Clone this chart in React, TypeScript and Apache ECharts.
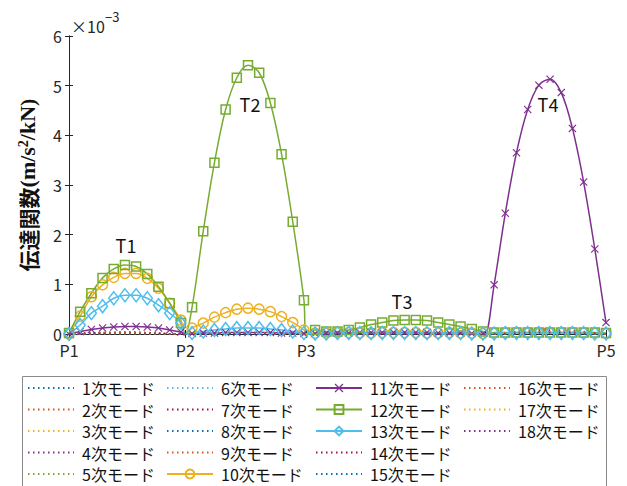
import React, { useEffect, useRef } from 'react';
import * as echarts from 'echarts';

// Support positions along the bridge (grid index units) and their labels
const SUPPORT_LABELS = ['P1', 'P2', 'P3', 'P4', 'P5'];
const SUPPORT_X = [0, 10.4, 21.2, 37.2, 48];
const INNER_SUPPORTS = [10.4, 21.2, 37.2];

// Marker stations (k = 0..48)
const STATION_X = [
  0, 1, 2, 3, 4, 5, 6, 7, 8, 9, 10, 11, 12, 13, 14, 15, 16, 17, 18, 19, 20, 21, 22, 23, 24,
  25, 26, 27, 28, 29, 30, 31, 32, 33, 34, 35, 36, 37, 38, 39, 40, 41, 42, 43, 44, 45, 46, 47, 48,
];

// Y tick values (×10^-3)
const Y_TICKS = [0, 1, 2, 3, 4, 5, 6];

// Main modes (values in ×10^-3 m/s²/kN) at each station
const MODE10 = [
  0, 0.36, 0.75, 0.99, 1.14, 1.22, 1.22, 1.12, 0.92, 0.62, 0.28,
  0.12, 0.22, 0.34, 0.43, 0.5, 0.52, 0.5, 0.45, 0.35, 0.23, 0.08,
  0.02, 0.02, 0.03, 0.03, 0.02, 0.02, 0.03, 0.03, 0.03, 0.03, 0.02, 0.02, 0.03, 0.02, 0.02, 0.01,
  0.02, 0.02, 0.03, 0.03, 0.03, 0.03, 0.03, 0.03, 0.02, 0.02, 0.01,
];
const MODE11 = [
  0, 0.05, 0.09, 0.12, 0.14, 0.15, 0.15, 0.14, 0.12, 0.08, 0.04,
  0.01, 0.02, 0.02, 0.03, 0.03, 0.03, 0.03, 0.03, 0.02, 0.02, 0.01,
  0.01, 0.02, 0.02, 0.02, 0.03, 0.03, 0.03, 0.03, 0.03, 0.03, 0.03, 0.02, 0.02, 0.02, 0.01, 0.01,
  0.99, 2.43, 3.65, 4.52, 5.01, 5.13, 4.86, 4.14, 3.06, 1.71, 0.23,
];
const MODE12 = [
  0.02, 0.45, 0.82, 1.13, 1.31, 1.39, 1.36, 1.21, 0.95, 0.62, 0.22,
  0.54, 2.07, 3.45, 4.52, 5.16, 5.41, 5.26, 4.65, 3.62, 2.26, 0.68,
  0.08, 0.05, 0.05, 0.08, 0.13, 0.19, 0.23, 0.27, 0.28, 0.28, 0.27, 0.23, 0.19, 0.15, 0.1, 0.05,
  0.03, 0.03, 0.03, 0.03, 0.03, 0.03, 0.03, 0.03, 0.03, 0.03, 0.02,
];
const MODE13 = [
  0, 0.18, 0.42, 0.56, 0.72, 0.78, 0.78, 0.72, 0.58, 0.42, 0.22,
  0.02, 0.05, 0.08, 0.1, 0.12, 0.12, 0.12, 0.1, 0.08, 0.05, 0.02,
  0.01, 0.01, 0.02, 0.02, 0.02, 0.02, 0.02, 0.02, 0.02, 0.02, 0.02, 0.02, 0.02, 0.02, 0.01, 0.01,
  0.01, 0.02, 0.02, 0.02, 0.02, 0.02, 0.02, 0.02, 0.02, 0.01, 0.01,
];

// Minor modes (dotted) sampled at supports and mid-spans
const DOT_X = [0, 5.2, 10.4, 15.8, 21.2, 29.2, 37.2, 42.6, 48];
const MODE1 = [0, 0.01, 0, 0.01, 0, 0.01, 0, 0.01, 0];
const MODE2 = [0, 0.02, 0, 0.02, 0, 0.03, 0, 0.05, 0];
const MODE3 = [0, 0.01, 0, 0.02, 0, 0.02, 0, 0.03, 0];
const MODE4 = [0, 0.02, 0, 0.01, 0, 0.02, 0, 0.02, 0];
const MODE5 = [0, 0.01, 0, 0.01, 0, 0.02, 0, 0.02, 0];
const MODE6 = [0, 0.01, 0, 0.01, 0, 0.01, 0, 0.02, 0];
const MODE7 = [0, 0.03, 0, 0.02, 0, 0.02, 0, 0.04, 0];
const MODE8 = [0, 0.02, 0, 0.02, 0, 0.02, 0, 0.03, 0];
const MODE9 = [0, 0.02, 0, 0.02, 0, 0.03, 0, 0.08, 0];
const MODE14 = [0, 0.04, 0, 0.02, 0, 0.03, 0, 0.06, 0];
const MODE15 = [0, 0.02, 0, 0.01, 0, 0.02, 0, 0.03, 0];
const MODE16 = [0, 0.03, 0, 0.03, 0, 0.04, 0, 0.1, 0];
const MODE17 = [0, 0.01, 0, 0.02, 0, 0.02, 0, 0.04, 0];
const MODE18 = [0, 0.01, 0, 0.02, 0, 0.02, 0, 0.03, 0];

const SPAN_LABELS = ['T1', 'T2', 'T3', 'T4'];

const C_BLUE = '#0072BD';
const C_ORANGE = '#D95319';
const C_YELLOW = '#EDB120';
const C_PURPLE = '#7E2F8E';
const C_GREEN = '#77AC30';
const C_CYAN = '#4DBEEE';
const C_RED = '#A2142F';

const JP = '"Noto Sans CJK JP", "Noto Sans", sans-serif';
const SERIF = '"Liberation Serif", "DejaVu Serif", serif';
const X_SYMBOL = 'path://M0,1 L1,0 L5,4 L9,0 L10,1 L6,5 L10,9 L9,10 L5,6 L1,10 L0,9 L4,5 Z';

const name = (n: number) => `${n}次モード`;

function stationData(values: number[]) {
  const pts: any[] = values.map((v, i) => ({ value: [STATION_X[i], v] }));
  INNER_SUPPORTS.forEach((sx) => pts.push({ value: [sx, 0], symbol: 'none' }));
  pts.sort((a, b) => a.value[0] - b.value[0]);
  return pts;
}

function dottedSeries(n: number, color: string, values: number[]) {
  return {
    name: name(n),
    type: 'line',
    data: values.map((v, i) => [DOT_X[i], v]),
    symbol: 'none',
    smooth: 0.4,
    lineStyle: { color, width: 1.5, type: [1.5, 3.5] },
    itemStyle: { color: 'rgba(0,0,0,0)', borderWidth: 0 },
  };
}

function markerSeries(n: number, color: string, values: number[], symbol: string, size: any, filled = false) {
  return {
    name: name(n),
    type: 'line',
    data: stationData(values),
    symbol,
    symbolSize: size,
    showSymbol: true,
    smooth: 0.35,
    lineStyle: { color, width: 1.5 },
    itemStyle: filled
      ? { color, borderWidth: 0 }
      : { color: 'rgba(255,255,255,0)', borderColor: color, borderWidth: 1.5 },
  };
}

export default function App() {
  const ref = useRef<HTMLDivElement>(null);
  useEffect(() => {
    if (!ref.current) return;
    const chart = echarts.init(ref.current, undefined, { renderer: 'svg' });

    const legendBase = {
      orient: 'vertical',
      itemWidth: 46,
      itemHeight: 11,
      itemGap: 5.5,
      padding: 0,
      top: 380,
      selectedMode: false,
      textStyle: { fontSize: 16, fontFamily: JP, color: '#111', lineHeight: 16, padding: [0, 0, 0, 3] },
    };

    const option: any = {
      animation: false,
      backgroundColor: '#fff',
      grid: { left: 69, right: 21, top: 36, bottom: 152 },
      xAxis: [
        {
          type: 'value',
          min: 0,
          max: 48,
          position: 'bottom',
          axisLine: { show: true, lineStyle: { color: '#262626', width: 1 } },
          axisTick: { show: true, inside: true, length: 4, customValues: SUPPORT_X, lineStyle: { color: '#262626' } },
          axisLabel: {
            customValues: SUPPORT_X,
            formatter: (v: number) => SUPPORT_LABELS[SUPPORT_X.indexOf(v)] ?? '',
            fontSize: 16,
            fontFamily: JP,
            color: '#262626',
            margin: 8,
          },
          splitLine: { show: false },
        },
        {
          type: 'value',
          min: 0,
          max: 48,
          position: 'top',
          axisLine: { show: true, lineStyle: { color: '#262626', width: 1 } },
          axisTick: { show: true, inside: true, length: 4, customValues: SUPPORT_X, lineStyle: { color: '#262626' } },
          axisLabel: { show: false },
          splitLine: { show: false },
        },
      ],
      yAxis: [
        {
          type: 'value',
          min: Y_TICKS[0],
          max: Y_TICKS[Y_TICKS.length - 1],
          interval: 1,
          position: 'left',
          name: '{a|伝達関数}{b|(m/s}{c|2}{b|/kN)}',
          nameLocation: 'middle',
          nameGap: 30,
          nameRotate: 90,
          nameTextStyle: {
            rich: {
              a: { fontFamily: JP, fontWeight: 'bold', fontSize: 21, color: '#111', lineHeight: 23 },
              b: { fontFamily: SERIF, fontWeight: 'bold', fontSize: 22, color: '#111', lineHeight: 23 },
              c: { fontFamily: SERIF, fontWeight: 'bold', fontSize: 14, color: '#111', lineHeight: 14, verticalAlign: 'top' },
            },
          },
          axisLine: { show: true, lineStyle: { color: '#262626', width: 1 } },
          axisTick: { show: true, inside: true, length: 4, lineStyle: { color: '#262626' } },
          axisLabel: { fontSize: 16, fontFamily: JP, color: '#262626', margin: 7 },
          splitLine: { show: false },
        },
        {
          type: 'value',
          min: Y_TICKS[0],
          max: Y_TICKS[Y_TICKS.length - 1],
          interval: 1,
          position: 'right',
          axisLine: { show: true, lineStyle: { color: '#262626', width: 1 } },
          axisTick: { show: true, inside: true, length: 4, lineStyle: { color: '#262626' } },
          axisLabel: { show: false },
          splitLine: { show: false },
        },
      ],
      legend: [
        { ...legendBase, left: 27, data: [name(1), name(2), name(3), name(4), name(5)] },
        { ...legendBase, left: 166, data: [name(6), name(7), name(8), name(9), name(10)] },
        { ...legendBase, left: 315, data: [name(11), name(12), name(13), name(14), name(15)] },
        { ...legendBase, left: 463, data: [name(16), name(17), name(18)] },
      ],
      graphic: [
        {
          type: 'rect',
          shape: { x: 22.5, y: 376.5, width: 584, height: 130 },
          style: { fill: 'none', stroke: '#8a8a8a', lineWidth: 1 },
          z: -1,
        },
        { type: 'text', x: 71, y: 26, style: { text: '×10', fontSize: 16, fontFamily: JP, fill: '#262626', verticalAlign: 'middle' } },
        { type: 'text', x: 105, y: 16, style: { text: '−3', fontSize: 13, fontFamily: JP, fill: '#262626', verticalAlign: 'middle' } },
        { type: 'text', x: 126, y: 245, style: { text: SPAN_LABELS[0], fontSize: 18, fontFamily: JP, fill: '#111', align: 'center', verticalAlign: 'middle' } },
        { type: 'text', x: 250, y: 104, style: { text: SPAN_LABELS[1], fontSize: 18, fontFamily: JP, fill: '#111', align: 'center', verticalAlign: 'middle' } },
        { type: 'text', x: 402, y: 301, style: { text: SPAN_LABELS[2], fontSize: 18, fontFamily: JP, fill: '#111', align: 'center', verticalAlign: 'middle' } },
        { type: 'text', x: 548, y: 104, style: { text: SPAN_LABELS[3], fontSize: 18, fontFamily: JP, fill: '#111', align: 'center', verticalAlign: 'middle' } },
      ],
      series: [
        dottedSeries(1, C_BLUE, MODE1),
        dottedSeries(2, C_ORANGE, MODE2),
        dottedSeries(3, C_YELLOW, MODE3),
        dottedSeries(4, C_PURPLE, MODE4),
        dottedSeries(5, C_GREEN, MODE5),
        dottedSeries(6, C_CYAN, MODE6),
        dottedSeries(7, C_RED, MODE7),
        dottedSeries(8, C_BLUE, MODE8),
        dottedSeries(9, C_ORANGE, MODE9),
        markerSeries(10, C_YELLOW, MODE10, 'circle', 10),
        markerSeries(11, C_PURPLE, MODE11, X_SYMBOL, 8, true),
        markerSeries(12, C_GREEN, MODE12, 'rect', 9),
        markerSeries(13, C_CYAN, MODE13, 'diamond', [10, 13]),
        dottedSeries(14, C_RED, MODE14),
        dottedSeries(15, C_BLUE, MODE15),
        dottedSeries(16, C_ORANGE, MODE16),
        dottedSeries(17, C_YELLOW, MODE17),
        dottedSeries(18, C_PURPLE, MODE18),
      ],
    };
    chart.setOption(option);
    return () => chart.dispose();
  }, []);
  return <div ref={ref} style={{ position: 'fixed', left: 0, top: 0, width: 627, height: 486 }} />;
}
